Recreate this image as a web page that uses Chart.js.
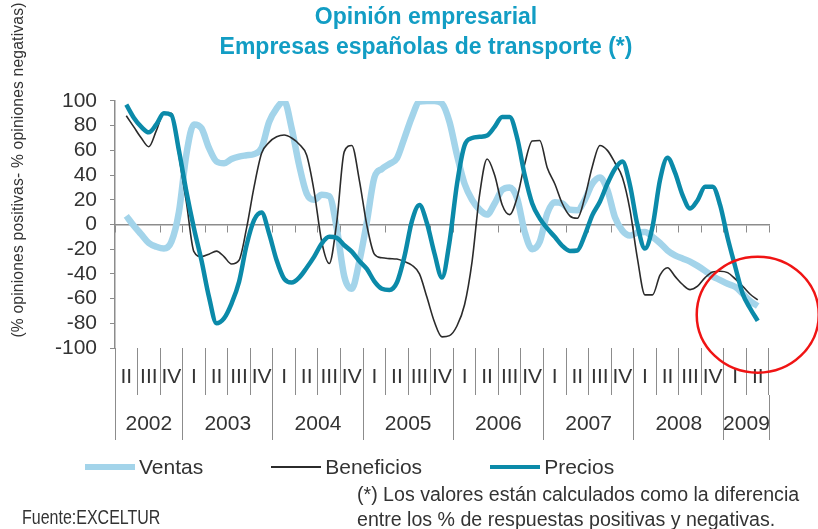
<!DOCTYPE html>
<html lang="es">
<head>
<meta charset="utf-8">
<title>Opinión empresarial</title>
<script src="https://cdn.jsdelivr.net/npm/chart.js@4.4.1/dist/chart.umd.min.js"></script>
<style>
    html, body { margin: 0; padding: 0; background: #fff; }
    #wrap { position: relative; width: 818px; height: 529px; overflow: hidden; font-family: 'Liberation Sans', Arial, sans-serif; color: #333; }
    #grafico { position: absolute; left: 0; top: 0; }
    #ejeY { position: absolute; left: -170px; top: 160px; width: 376px; line-height: 20px; text-align: center; font-size: 15.6px; letter-spacing: 0.2px; transform: rotate(-90deg); white-space: nowrap; }
    #leyenda { position: absolute; left: 85px; top: 455px; height: 24px; display: flex; align-items: center; font-size: 21px; line-height: 24px; }
    .item { display: flex; align-items: center; margin-right: 68px; }
    .muestra { width: 50px; margin-right: 4px; }
    .nota { position: absolute; font-size: 19.6px; line-height: 24px; white-space: nowrap; transform-origin: left center; }
</style>
</head>
<body>
<div id="wrap">
    <canvas id="grafico" width="818" height="529"></canvas>
    <div id="ejeY">(% opiniones positivas- % opiniones negativas)</div>
    <div id="leyenda"></div>
    <div class="nota" style="left:357px; top:482px">(*) Los valores están calculados como la diferencia</div>
    <div class="nota" style="left:357px; top:507px">entre los % de respuestas positivas y negativas.</div>
    <div class="nota" style="left:22px; top:505px; font-size: 20px; transform: scaleX(0.8)">Fuente:EXCELTUR</div>
</div>
<script>
// Trimestres desde 2002 II hasta 2009 II
const trimestres = ['II', 'III', 'IV',
    'I', 'II', 'III', 'IV', 'I', 'II', 'III', 'IV', 'I', 'II', 'III', 'IV',
    'I', 'II', 'III', 'IV', 'I', 'II', 'III', 'IV', 'I', 'II', 'III', 'IV',
    'I', 'II'];
const anios = ['2002', '2003', '2004', '2005', '2006', '2007', '2008', '2009'];
// límites de cada año, en trimestres desde el inicio
const limitesAnio = [0, 3, 7, 11, 15, 19, 23, 27, 29];

// Saldos mensuales (% positivas - % negativas), de may-2002 a may-2009
const ventas = [
    7, -1, -8, -15, -18, -19.5, -14, 10, 57, 81, 78, 62, 51, 49.5, 53, 55,
    56, 57, 62, 83, 94, 100, 78, 48, 25, 20, 24, 23, -3, -42, -52, -30, 2, 38,
    45, 49, 53.5, 70, 87, 99.5, 100, 100, 98, 83, 56, 33, 20, 12, 8, 17, 28,
    30, 21, -6, -20, -14, 9, 18, 17, 12, 11.6, 20, 33, 38, 28, 6, -5, -9,
    -6.5, -6, -10, -15, -21, -25, -27.5, -30, -33.5, -37.5, -42, -45, -48, -50.5, -56, -62, -66
];
const beneficios = [
    88, 79, 70, 63, 76, 90, 90, 56, 18, -22, -26, -24, -21.6, -26, -32, -29,
    -3, 30.5, 57.6, 66.5, 71, 72.4, 70, 65, 56, 26.5, -14, -31.6, 2, 59, 64, 36, -0.5, -24,
    -27, -27.6, -28, -30, -33, -40, -59, -79, -91, -90, -82, -65, -30, 24, 53, 40, 16,
    8, 22, 49, 67.6, 68, 46, 33, 17, 7, 5, 22, 47, 64, 60, 50, 38, 12,
    -27.6, -57, -57, -41, -35, -42, -48.6, -52.7, -50, -43, -38.4, -37.8, -39, -44, -50, -56.5, -61
];
const precios = [
    97, 86.5, 79, 74.6, 81, 90, 88.6, 60, 26.5, -3, -29, -58.6, -80, -76, -64, -46.5,
    -16.8, 3.5, 9.7, -7.3, -29, -44, -47, -43, -35, -26, -15.4, -10, -10.8, -16.8, -22, -29.5, -36, -46,
    -52, -53, -47, -26, 2.7, 15.7, 1, -23.5, -43, -14, 33, 64, 70, 71, 72, 79, 87,
    87, 70, 40, 17, 5, -3.2, -10, -17.3, -21.4, -21, -8.6, 7.6, 18.4, 33, 45, 51, 32,
    -0.5, -19.5, -2, 36, 54, 42, 23.8, 13, 19.7, 30.5, 30.5, 15.7, -11, -34, -56, -68, -78
];

// Marca roja sobre el último tramo (centro en unidades de los ejes)
const marca = { x: 28.5, y: -73, rx: 61, ry: 58 };

const GRIS = '#8c8c8c';
const TEXTO = '#333333';
const MES = 1 / 3; // un mes medido en trimestres

function serie(valores) {
    return valores.map((v, i) => ({ x: 0.5 + i * MES, y: v }));
}

const centrosAnio = anios.map((a, i) => (limitesAnio[i] + limitesAnio[i + 1]) / 2);

// Dibuja la elipse roja anclada a las escalas
const marcaPlugin = {
    id: 'marca',
    afterDraw(chart) {
        const { ctx, scales } = chart;
        const cx = scales.x.getPixelForValue(marca.x);
        const cy = scales.y.getPixelForValue(marca.y);
        ctx.save();
        ctx.strokeStyle = '#f01414';
        ctx.lineWidth = 2.5;
        ctx.beginPath();
        ctx.ellipse(cx, cy, marca.rx, marca.ry, 0, 0, Math.PI * 2);
        ctx.stroke();
        ctx.restore();
    }
};

Chart.defaults.font.family = "'Liberation Sans', Arial, sans-serif";
Chart.defaults.color = TEXTO;

const ctx = document.getElementById('grafico').getContext('2d');
const grafico = new Chart(ctx, {
    type: 'line',
    data: {
        datasets: [{
            label: 'Ventas',
            data: serie(ventas),
            borderColor: '#a3d4ea',
            borderWidth: 6.5,
            order: 2,
            clip: 0
        }, {
            label: 'Beneficios',
            data: serie(beneficios),
            borderColor: '#2b2b2b',
            borderWidth: 1.6,
            order: 1
        }, {
            label: 'Precios',
            data: serie(precios),
            borderColor: '#0b8aa9',
            borderWidth: 4.5,
            order: 0
        }]
    },
    options: {
        responsive: false,
        animation: false,
        devicePixelRatio: 1,
        layout: { padding: { left: 34, right: 0, top: 0, bottom: 89 } },
        elements: {
            point: { radius: 0 },
            line: { cubicInterpolationMode: 'monotone', fill: false }
        },
        plugins: {
            legend: { display: false },
            tooltip: { enabled: false },
            title: {
                display: true,
                text: ['Opinión empresarial', 'Empresas españolas de transporte (*)'],
                color: '#129dc4',
                font: { size: 23, weight: 'bold', lineHeight: 1.304 },
                padding: { top: 3, bottom: 38 }
            }
        },
        scales: {
            x: {
                type: 'linear',
                min: 0,
                max: trimestres.length,
                position: { y: 0 },
                afterBuildTicks: s => { s.ticks = trimestres.concat(['']).map((t, i) => ({ value: i })); },
                ticks: { display: false },
                grid: { drawOnChartArea: false, tickLength: 7, color: GRIS },
                border: { color: GRIS, width: 1.5 }
            },
            q: {
                type: 'category',
                labels: trimestres,
                position: 'bottom',
                weight: 1,
                offset: true,
                afterFit: s => { s.height = 47; },
                grid: { offset: true, drawOnChartArea: false, tickLength: 47, color: GRIS },
                border: { display: false },
                ticks: { autoSkip: false, maxRotation: 0, padding: -30, font: { size: 21 }, color: TEXTO }
            },
            anio: {
                type: 'linear',
                min: 0,
                max: trimestres.length,
                position: 'bottom',
                weight: 2,
                afterFit: s => { s.height = 45; },
                afterBuildTicks: s => {
                    s.ticks = limitesAnio.concat(centrosAnio).sort((a, b) => a - b).map(v => ({ value: v }));
                },
                grid: {
                    drawOnChartArea: false,
                    tickLength: 45,
                    tickColor: c => limitesAnio.includes(c.tick.value) ? GRIS : 'rgba(0,0,0,0)'
                },
                border: { display: false },
                ticks: {
                    autoSkip: false,
                    maxRotation: 0,
                    padding: -28,
                    font: { size: 21 },
                    color: TEXTO,
                    callback: v => {
                        const i = centrosAnio.indexOf(v);
                        return i >= 0 ? anios[i] : '';
                    }
                }
            },
            y: {
                type: 'linear',
                min: -100,
                max: 100,
                afterFit: s => { s.width = 81; },
                ticks: { stepSize: 20, autoSkip: false, padding: 13, font: { size: 21 }, color: TEXTO },
                grid: { drawOnChartArea: false, tickLength: 5, color: GRIS },
                border: { color: GRIS, width: 1.5 }
            },
            margen: {
                type: 'linear',
                position: 'right',
                afterFit: s => { s.width = 49; },
                ticks: { display: false },
                grid: { display: false },
                border: { display: false }
            }
        }
    },
    plugins: [marcaPlugin]
});

// Leyenda en HTML a partir de las series del gráfico
const leyenda = document.getElementById('leyenda');
grafico.data.datasets.forEach(ds => {
    const item = document.createElement('div');
    item.className = 'item';
    const muestra = document.createElement('span');
    muestra.className = 'muestra';
    muestra.style.height = Math.max(2, ds.borderWidth) + 'px';
    muestra.style.background = ds.borderColor;
    const texto = document.createElement('span');
    texto.textContent = ds.label;
    item.appendChild(muestra);
    item.appendChild(texto);
    leyenda.appendChild(item);
});
</script>
</body>
</html>
